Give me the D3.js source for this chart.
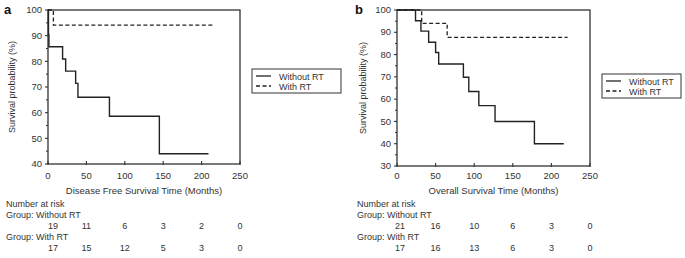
<!DOCTYPE html>
<html>
<head>
<meta charset="utf-8">
<script src="https://cdn.jsdelivr.net/npm/d3@7"></script>
<style>
  body { margin: 0; background: #fff; }
  text { font-family: "Liberation Sans", Arial, sans-serif; fill: #333; }
</style>
</head>
<body>
<svg id="chart" width="685" height="258"></svg>
<script>
// x ticks shared by both panels
const timeTicks = [0, 50, 100, 150, 200, 250];

// panel a: disease free survival
const dfsWithoutT = [0, 0.6, 1.2, 19, 23, 36, 39, 80, 145, 209];
const dfsWithoutS = [100, 90.5, 85.7, 80.9, 76.2, 71.4, 66.0, 58.6, 44.0, 44.0];
const dfsWithT = [0, 7, 214];
const dfsWithS = [100, 94.1, 94.1];
const dfsRiskWithout = [19, 11, 6, 3, 2, 0];
const dfsRiskWith = [17, 15, 12, 5, 3, 0];

// panel b: overall survival
const osWithoutT = [0, 24, 31, 41, 50, 54, 86, 93, 106, 127, 178, 216];
const osWithoutS = [100, 95.2, 90.5, 85.5, 80.9, 75.8, 69.8, 63.4, 57.1, 50.0, 40.0, 40.0];
const osWithT = [0, 32, 65, 221];
const osWithS = [100, 94.0, 87.7, 87.7];
const osRiskWithout = [21, 16, 10, 6, 3, 0];
const osRiskWith = [17, 16, 13, 6, 3, 0];

const svg = d3.select('#chart');

function drawPanel(opt) {
  const g = svg.append('g');
  const x = d3.scaleLinear().domain([0, 250]).range([opt.left, opt.right]);
  const y = d3.scaleLinear().domain([opt.ymin, 100]).range([opt.bottom, opt.top]);

  // frame
  g.append('rect')
    .attr('x', opt.left).attr('y', opt.top)
    .attr('width', opt.right - opt.left).attr('height', opt.bottom - opt.top)
    .attr('fill', 'none').attr('stroke', '#333').attr('stroke-width', 1.3);

  // y axis: major ticks outward, minor between
  const yMajor = d3.range(opt.ymin, 101, 10);
  const yMinor = d3.range(opt.ymin + 5, 100, 10);
  g.selectAll('.ymaj').data(yMajor).enter().append('line')
    .attr('x1', opt.left - 3).attr('x2', opt.left)
    .attr('y1', d => y(d)).attr('y2', d => y(d))
    .attr('stroke', '#333').attr('stroke-width', 1.1);
  g.selectAll('.ymin').data(yMinor).enter().append('line')
    .attr('x1', opt.left - 2).attr('x2', opt.left)
    .attr('y1', d => y(d)).attr('y2', d => y(d))
    .attr('stroke', '#333').attr('stroke-width', 1);
  g.selectAll('.ylab').data(yMajor).enter().append('text')
    .attr('x', opt.left - 6).attr('y', d => y(d) + 3.2)
    .attr('text-anchor', 'end').style('font-size', '9.5px')
    .text(d => d);

  // x axis ticks, pointing up into the plot
  g.selectAll('.xmaj').data(timeTicks).enter().append('line')
    .attr('x1', d => x(d)).attr('x2', d => x(d))
    .attr('y1', opt.bottom - 3).attr('y2', opt.bottom + 1)
    .attr('stroke', '#333').attr('stroke-width', 1.1);
  g.selectAll('.xlab').data(timeTicks).enter().append('text')
    .attr('x', d => x(d)).attr('y', 178.5)
    .attr('text-anchor', 'middle').style('font-size', '9.5px')
    .text(d => d);

  g.append('text')
    .attr('x', (opt.left + opt.right) / 2).attr('y', 194)
    .attr('text-anchor', 'middle').style('font-size', '9.5px')
    .text(opt.xTitle);

  g.append('text')
    .attr('transform', `translate(${opt.yTitleX},${(opt.top + opt.bottom) / 2}) rotate(-90)`)
    .attr('text-anchor', 'middle').style('font-size', '9px')
    .text('Survival probability (%)');

  g.append('text')
    .attr('x', opt.letterX).attr('y', 14)
    .style('font-size', '13px').style('font-weight', 'bold').style('fill', '#111')
    .text(opt.letter);

  // curves
  const line = d3.line()
    .x(d => x(d[0])).y(d => y(d[1]))
    .curve(d3.curveStepAfter);
  g.append('path')
    .datum(d3.zip(opt.withT, opt.withS))
    .attr('d', line).attr('fill', 'none')
    .attr('stroke', '#222').attr('stroke-width', 1.3)
    .attr('stroke-dasharray', '4,2.5');
  g.append('path')
    .datum(d3.zip(opt.withoutT, opt.withoutS))
    .attr('d', line).attr('fill', 'none')
    .attr('stroke', '#222').attr('stroke-width', 1.4);

  // legend
  const lg = g.append('g').attr('transform', `translate(${opt.legX},${opt.legY})`);
  lg.append('rect').attr('width', opt.legW).attr('height', 24)
    .attr('fill', '#fff').attr('stroke', '#333').attr('stroke-width', 1);
  [['Without RT', null], ['With RT', '4,2.5']].forEach(([name, dash], i) => {
    lg.append('line')
      .attr('x1', 4).attr('x2', 19)
      .attr('y1', 7 + i * 10).attr('y2', 7 + i * 10)
      .attr('stroke', '#222').attr('stroke-width', 1.3)
      .attr('stroke-dasharray', dash);
    lg.append('text')
      .attr('x', 27).attr('y', 10.5 + i * 10)
      .style('font-size', '9px')
      .text(name);
  });

  // number at risk table
  const rows = opt.rowY;
  g.append('text').attr('x', opt.tableX).attr('y', rows[0])
    .style('font-size', '9px').text('Number at risk');
  g.append('text').attr('x', opt.tableX).attr('y', rows[1])
    .style('font-size', '9px').text('Group: Without RT');
  g.append('text').attr('x', opt.tableX).attr('y', rows[3])
    .style('font-size', '9px').text('Group: With RT');
  [[opt.riskWithout, rows[2]], [opt.riskWith, rows[4]]].forEach(([vals, yy]) => {
    g.selectAll(null).data(vals).enter().append('text')
      .attr('x', (d, i) => x(timeTicks[i]) + (i === 0 ? opt.firstShift : 0))
      .attr('y', yy)
      .attr('text-anchor', 'middle').style('font-size', '9px')
      .text(d => d);
  });
}

drawPanel({
  left: 48, right: 240, top: 10, bottom: 164, ymin: 40,
  xTitle: 'Disease Free Survival Time (Months)',
  yTitleX: 15, letter: 'a', letterX: 4,
  withT: dfsWithT, withS: dfsWithS,
  withoutT: dfsWithoutT, withoutS: dfsWithoutS,
  legX: 252, legY: 69, legW: 89,
  riskWithout: dfsRiskWithout, riskWith: dfsRiskWith,
  tableX: 6, rowY: [207, 218, 229, 239.5, 250.5], firstShift: 5
});

drawPanel({
  left: 397, right: 590, top: 10, bottom: 166, ymin: 30,
  xTitle: 'Overall Survival Time (Months)',
  yTitleX: 366, letter: 'b', letterX: 355,
  withT: osWithT, withS: osWithS,
  withoutT: osWithoutT, withoutS: osWithoutS,
  legX: 602, legY: 74, legW: 79,
  riskWithout: osRiskWithout, riskWith: osRiskWith,
  tableX: 357, rowY: [207, 218, 229, 240, 251], firstShift: 3
});
</script>
</body>
</html>
